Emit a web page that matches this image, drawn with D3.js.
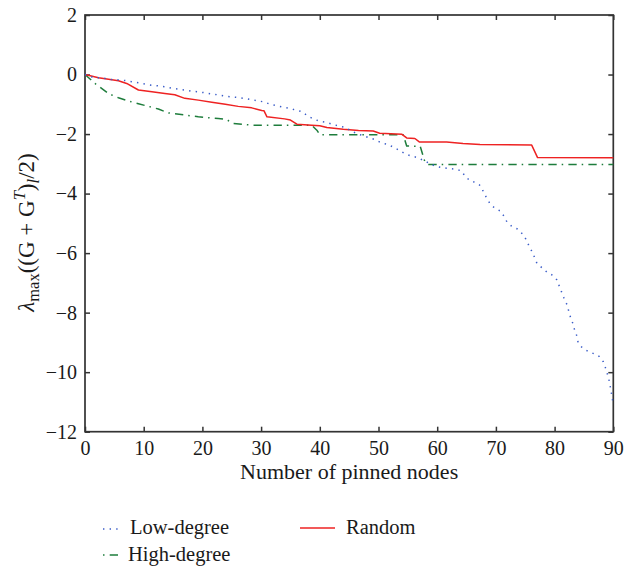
<!DOCTYPE html>
<html>
<head>
<meta charset="utf-8">
<script src="https://cdn.jsdelivr.net/npm/d3@7"></script>
<style>
  body { margin: 0; background: #fff; }
  svg { display: block; }
  text { font-family: "Liberation Serif", "Times New Roman", serif; fill: #1a1a1a; }
</style>
</head>
<body>
<svg id="chart" width="638" height="568"></svg>
<script>
// ---- Data ----
const xTicks = [0, 10, 20, 30, 40, 50, 60, 70, 80, 90];
const yTicks = [2, 0, -2, -4, -6, -8, -10, -12];

const lowX = [0,1.1,2.4,3.4,4.5,5.7,6.8,8,9.1,10.2,11.4,12.5,13.6,14.8,15.9,17,18.1,19.2,20.3,21.5,22.6,23.7,24.9,26,27.1,28.3,29.4,30.7,31.5,32.7,33.8,34.9,36,37,37.9,39,40,41.2,42.3,43.3,44.4,45.4,46.5,47.5,48.5,49.5,50.5,51.7,52.6,53.6,54.5,55.6,56.7,57.8,59.7,60.9,62,63.1,64.2,64.7,65.6,66.6,67.4,67.9,68.4,69,69.8,70.8,71.4,71.9,72.7,73.8,74.5,75.1,75.6,76.1,76.6,77,77.9,78.7,79.7,80.4,80.8,81.2,81.6,82.1,82.4,82.7,83.1,83.4,83.8,84,84.7,85.7,86.7,87.6,88.3,88.7,89,89.3,89.5,89.7,90];
const lowY = [0,-0.08,-0.11,-0.13,-0.17,-0.18,-0.2,-0.24,-0.28,-0.32,-0.36,-0.38,-0.41,-0.46,-0.49,-0.52,-0.56,-0.58,-0.61,-0.65,-0.68,-0.72,-0.75,-0.77,-0.8,-0.84,-0.88,-0.93,-1.0,-1.05,-1.1,-1.14,-1.2,-1.25,-1.39,-1.5,-1.57,-1.61,-1.68,-1.73,-1.78,-1.9,-2.0,-2.06,-2.13,-2.19,-2.3,-2.35,-2.45,-2.55,-2.66,-2.74,-2.79,-2.9,-3.08,-3.13,-3.16,-3.18,-3.24,-3.41,-3.57,-3.63,-3.74,-3.95,-4.14,-4.34,-4.49,-4.59,-4.77,-4.96,-5.1,-5.2,-5.35,-5.53,-5.74,-5.93,-6.15,-6.35,-6.5,-6.64,-6.75,-6.9,-7.11,-7.31,-7.51,-7.73,-7.94,-8.15,-8.36,-8.58,-8.79,-9.0,-9.18,-9.3,-9.38,-9.47,-9.65,-9.87,-10.07,-10.29,-10.5,-10.73,-11.1];

const highX = [0,1.7,4,5.7,7.4,9.1,10.8,12.5,14.2,17,19.3,22.7,24.1,25.2,28.4,38.6,39.5,40,54.2,54.8,57.1,57.5,57.9,58.5,90];
const highY = [0,-0.3,-0.64,-0.78,-0.89,-0.98,-1.07,-1.16,-1.29,-1.36,-1.42,-1.48,-1.51,-1.64,-1.7,-1.7,-1.87,-2.02,-2.02,-2.4,-2.41,-2.67,-2.93,-3.02,-3.02];

const randX = [0,2.3,5.7,7.1,9.1,11.4,13.6,15.3,17,19.3,21.6,23.9,26.1,28.4,30.1,30.5,31,34,35,36.1,38.6,40,41.2,44,46.6,49.1,50.2,54,54.8,56.2,57,61.6,64.4,67.3,76.1,77.1,90];
const randY = [0,-0.11,-0.21,-0.3,-0.52,-0.58,-0.64,-0.68,-0.8,-0.86,-0.93,-1.0,-1.07,-1.12,-1.21,-1.22,-1.42,-1.49,-1.53,-1.67,-1.7,-1.72,-1.78,-1.84,-1.88,-1.9,-1.97,-2.01,-2.13,-2.15,-2.27,-2.27,-2.32,-2.35,-2.37,-2.79,-2.8];

const seriesNames = ["Low-degree", "High-degree", "Random"];

// ---- Layout / style ----
const W = 638, H = 568;
const pLeft = 85, pRight = 613.3, pTop = 15, pBottom = 431.7;
const axisColor = "#333";

const svg = d3.select("#chart");
const x = d3.scaleLinear().domain([0, 90]).range([pLeft, pRight]);
const y = d3.scaleLinear().domain([-12, 2]).range([pBottom, pTop]);

// axes with inward ticks on all sides
function styleAxis(g) {
  g.select(".domain").remove();
  g.selectAll(".tick line").attr("stroke", axisColor).attr("stroke-width", 1.5);
  g.selectAll(".tick text").attr("font-size", 20).attr("font-family", "Liberation Serif").attr("fill", "#1a1a1a");
}
svg.append("g").attr("transform", `translate(0,${pBottom})`)
  .call(d3.axisBottom(x).tickValues(xTicks).tickSize(-5).tickPadding(9).tickFormat(d3.format("d")))
  .call(styleAxis);
svg.append("g").attr("transform", `translate(0,${pTop})`)
  .call(d3.axisTop(x).tickValues(xTicks).tickSize(-5).tickFormat(""))
  .call(styleAxis);
svg.append("g").attr("transform", `translate(${pLeft},0)`)
  .call(d3.axisLeft(y).tickValues(yTicks).tickSize(-5).tickPadding(8).tickFormat(d3.format("d")))
  .call(styleAxis);
svg.append("g").attr("transform", `translate(${pRight},0)`)
  .call(d3.axisRight(y).tickValues(yTicks).tickSize(-5).tickFormat(""))
  .call(styleAxis);

svg.append("rect").attr("x", pLeft).attr("y", pTop)
  .attr("width", pRight - pLeft).attr("height", pBottom - pTop)
  .attr("fill", "none").attr("stroke", axisColor).attr("stroke-width", 1.7);

// lines
const line = d3.line().x(d => x(d[0])).y(d => y(d[1]));
const styles = {
  "Low-degree": { color: "#3a5cc8", dash: "1.4,5.2", width: 1.5, legendOffset: 0 },
  "High-degree": { color: "#1e7d3c", dash: "8.3,5,1.5,5.2", width: 1.5, legendOffset: 13.3 },
  "Random": { color: "#ee2222", dash: null, width: 1.5, legendOffset: 0 }
};
const seriesData = {
  "Low-degree": d3.zip(lowX, lowY),
  "High-degree": d3.zip(highX, highY),
  "Random": d3.zip(randX, randY)
};
const plot = svg.append("g");
["High-degree", "Random", "Low-degree"].forEach(name => {
  const s = styles[name];
  plot.append("path").datum(seriesData[name])
    .attr("d", line)
    .attr("fill", "none")
    .attr("stroke", s.color)
    .attr("stroke-width", s.width)
    .attr("stroke-dasharray", s.dash)
    .attr("stroke-linejoin", "round");
});

// axis labels
svg.append("text").attr("x", (pLeft + pRight) / 2).attr("y", 479)
  .attr("text-anchor", "middle").attr("font-size", 22)
  .text("Number of pinned nodes");

const yl = svg.append("text").attr("transform", "translate(34,232.5) rotate(-90)")
  .attr("text-anchor", "middle").attr("font-size", 23);
yl.append("tspan").attr("font-style", "italic").text("λ");
yl.append("tspan").attr("font-size", 16.5).attr("dy", 4.5).text("max");
yl.append("tspan").attr("dy", -4.5).text("((G + G");
yl.append("tspan").attr("font-size", 16.5).attr("font-style", "italic").attr("dy", -9).text("T");
yl.append("tspan").attr("dy", 9).text(")");
yl.append("tspan").attr("font-size", 16.5).attr("font-style", "italic").attr("dy", 4.5).text("l");
yl.append("tspan").attr("dy", -4.5).text("/2)");

// legend
const legendPos = {
  "Low-degree": { lx: 103, ly: 529, tx: 130, ty: 534 },
  "Random": { lx: 300, ly: 528, tx: 346, ty: 534, len: 35 },
  "High-degree": { lx: 103, ly: 555, tx: 128, ty: 561 }
};
seriesNames.forEach(name => {
  const p = legendPos[name], s = styles[name];
  const len = p.len || 16;
  svg.append("line").attr("x1", p.lx).attr("x2", p.lx + len)
    .attr("y1", p.ly).attr("y2", p.ly)
    .attr("stroke", s.color).attr("stroke-width", s.width)
    .attr("stroke-dasharray", s.dash)
    .attr("stroke-dashoffset", s.legendOffset);
  svg.append("text").attr("x", p.tx).attr("y", p.ty)
    .attr("font-size", 20.5).text(name);
});
</script>
</body>
</html>
